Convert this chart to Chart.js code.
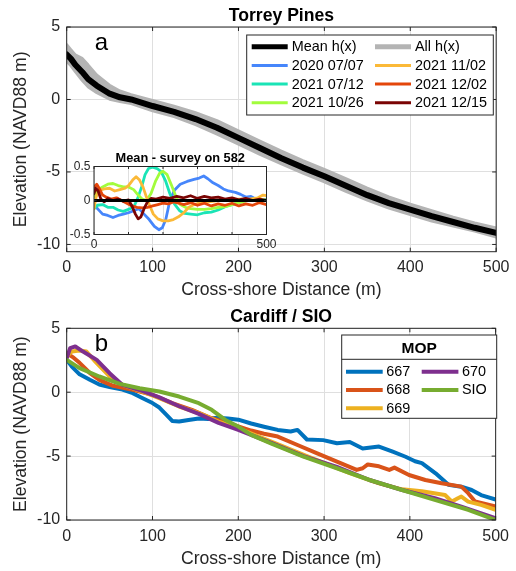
<!DOCTYPE html>
<html>
<head>
<meta charset="utf-8">
<script src="https://cdn.jsdelivr.net/npm/chart.js@4.4.1/dist/chart.umd.min.js"></script>
<style>
  html, body { margin: 0; padding: 0; background: #fff; }
  #page { position: relative; width: 516px; height: 571px; overflow: hidden; }
  canvas { position: absolute; }
  #top { left: 0; top: 0; }
  #bottom { left: 0; top: 302px; }
  #inset { left: 60px; top: 148px; }
</style>
</head>
<body>
<div id="page">
  <canvas id="top" width="516" height="302"></canvas>
  <canvas id="bottom" width="516" height="269"></canvas>
  <canvas id="inset" width="220" height="106"></canvas>
</div>
<script>
const FONT = "'Liberation Sans', Arial, Helvetica, sans-serif";

// ---- tick values ----
const xTicks = [0, 100, 200, 300, 400, 500];
const elevTicks = [-10, -5, 0, 5];
const insetXTicks = [0, 100, 200, 300, 400, 500];
const insetYTicks = [-0.5, 0, 0.5];

// ---- Torrey Pines: mean profile and envelope of all profiles ----
const tpX = [0, 5, 10, 18, 25, 35, 50, 62, 75, 100, 125, 150, 175, 200, 225, 250, 275, 300, 325, 350, 375, 400, 425, 450, 475, 500];
const tpMean = [3.1, 2.8, 2.4, 1.9, 1.4, 0.95, 0.4, 0.15, 0.0, -0.45, -0.85, -1.35, -1.95, -2.65, -3.35, -4.05, -4.7, -5.3, -5.95, -6.6, -7.15, -7.6, -8.05, -8.45, -8.85, -9.2];
const tpAllHigh = [3.8, 3.45, 3.1, 2.85, 2.4, 1.7, 1.0, 0.6, 0.35, -0.05, -0.45, -0.9, -1.45, -2.15, -2.85, -3.55, -4.2, -4.8, -5.45, -6.1, -6.7, -7.2, -7.65, -8.1, -8.5, -8.85];
const tpAllLow = [2.6, 2.3, 1.9, 1.3, 0.85, 0.45, 0.0, -0.15, -0.3, -0.8, -1.2, -1.75, -2.4, -3.1, -3.8, -4.45, -5.1, -5.7, -6.35, -6.95, -7.5, -7.95, -8.4, -8.75, -9.1, -9.5];

// ---- inset: mean minus survey, [x, dz] ----
const surveyLabels = ['2020 07/07', '2021 07/12', '2021 10/26', '2021 11/02', '2021 12/02', '2021 12/15'];
const surveyColors = ['#4686fb', '#1ae4b6', '#a2fc3c', '#fbb938', '#e4460a', '#7a0403'];
const s20200707 = [[0,-0.05],[10,-0.12],[25,-0.2],[40,-0.22],[55,-0.25],[70,-0.22],[85,-0.2],[100,-0.18],[115,-0.15],[130,-0.12],[145,-0.2],[160,-0.28],[175,-0.38],[188,-0.43],[198,-0.4],[208,-0.28],[220,0.0],[233,0.15],[250,0.24],[270,0.28],[290,0.31],[305,0.33],[318,0.36],[330,0.32],[345,0.26],[360,0.22],[375,0.17],[390,0.14],[410,0.12],[425,0.09],[440,0.05],[455,0.06],[470,0.02],[485,0.0],[500,0.02]];
const s20210712 = [[0,-0.12],[10,-0.07],[25,-0.06],[40,-0.1],[55,-0.1],[70,-0.14],[85,-0.16],[100,-0.13],[115,-0.1],[128,0.05],[138,0.2],[148,0.38],[158,0.47],[170,0.49],[183,0.47],[195,0.42],[208,0.28],[220,0.1],[233,-0.05],[248,-0.15],[263,-0.19],[280,-0.2],[300,-0.21],[320,-0.18],[340,-0.17],[360,-0.14],[380,-0.09],[400,-0.06],[420,-0.03],[440,0.0],[460,0.02],[480,-0.01],[500,0.0]];
const s20211026 = [[0,0.05],[10,0.15],[25,0.2],[40,0.24],[55,0.25],[70,0.22],[85,0.2],[100,0.2],[115,0.16],[128,0.08],[140,0.02],[152,0.0],[165,0.1],[178,0.28],[190,0.4],[200,0.43],[212,0.38],[225,0.22],[238,0.05],[250,-0.06],[265,-0.1],[280,-0.12],[300,-0.13],[320,-0.13],[340,-0.12],[360,-0.1],[380,-0.09],[400,-0.06],[420,-0.03],[445,0.0],[470,0.02],[500,0.01]];
const s20211102 = [[0,-0.12],[6,0.05],[14,0.15],[30,0.17],[45,0.18],[60,0.14],[75,0.16],[90,0.18],[100,0.22],[112,0.3],[122,0.35],[132,0.3],[142,0.2],[152,0.05],[162,-0.08],[172,-0.2],[185,-0.27],[200,-0.3],[215,-0.3],[230,-0.28],[245,-0.24],[260,-0.18],[275,-0.1],[290,-0.06],[310,-0.03],[330,-0.02],[360,0.0],[390,0.01],[420,0.02],[450,0.02],[475,0.04],[490,0.08],[500,0.07]];
const s20211202 = [[0,0.2],[8,0.24],[15,0.18],[25,0.08],[35,0.05],[50,0.02],[65,0.04],[80,0.0],[95,-0.04],[110,-0.08],[125,-0.1],[140,-0.11],[155,-0.1],[170,-0.08],[185,-0.06],[200,-0.04],[215,-0.05],[230,-0.02],[245,-0.04],[260,-0.06],[280,-0.03],[300,-0.07],[320,-0.04],[340,-0.08],[360,-0.05],[380,-0.07],[400,-0.04],[420,-0.08],[440,-0.05],[460,-0.07],[480,-0.03],[500,-0.06]];
const s20211215 = [[0,0.1],[5,0.18],[12,0.14],[20,0.02],[30,-0.02],[40,0.03],[55,0.0],[70,0.02],[85,-0.01],[100,0.01],[110,-0.08],[120,-0.2],[128,-0.27],[136,-0.24],[145,-0.12],[155,-0.02],[165,0.03],[180,0.02],[200,0.05],[220,0.03],[240,0.06],[260,0.04],[280,0.07],[300,0.03],[320,0.06],[340,0.04],[360,0.05],[380,0.02],[400,0.04],[420,0.01],[440,0.03],[460,0.0],[480,0.02],[500,0.0]];
const surveys = [s20200707, s20210712, s20211026, s20211102, s20211202, s20211215];
const zeroLine = [[0, 0], [500, 0]];

// ---- Cardiff / SIO profiles, [x, z] ----
const mopLabels = ['667', '668', '669', '670', 'SIO'];
const mopColors = ['#0072bd', '#d95319', '#edb120', '#7e2f8e', '#77ac30'];
const mop667 = [[0,2.55],[6,2.0],[15,1.4],[27,0.97],[38,0.6],[50,0.4],[65,0.2],[77,-0.08],[88,-0.45],[100,-0.85],[108,-1.2],[116,-1.75],[123,-2.25],[131,-2.3],[142,-2.17],[154,-2.05],[165,-2.1],[175,-2.0],[188,-2.05],[200,-2.15],[215,-2.45],[230,-2.7],[246,-2.95],[261,-3.08],[269,-2.95],[280,-3.7],[299,-3.75],[315,-4.0],[330,-3.9],[345,-4.4],[364,-4.25],[380,-4.65],[395,-5.05],[406,-5.4],[414,-5.55],[430,-6.35],[445,-7.25],[460,-7.4],[472,-7.65],[483,-8.05],[500,-8.4]];
const mop668 = [[0,3.05],[8,2.7],[15,2.3],[27,1.5],[38,0.97],[54,0.5],[77,0.18],[100,-0.2],[123,-0.86],[146,-1.38],[169,-2.04],[192,-2.5],[215,-3.0],[230,-3.25],[246,-3.47],[269,-4.13],[292,-4.78],[315,-5.43],[338,-6.08],[345,-5.95],[351,-5.65],[364,-5.8],[376,-6.08],[382,-5.9],[399,-6.48],[418,-6.87],[437,-7.13],[460,-7.39],[468,-7.9],[476,-8.55],[500,-8.95]];
const mop669 = [[0,2.8],[6,3.18],[15,3.26],[23,3.18],[35,2.27],[50,1.23],[65,0.57],[88,0.05],[108,-0.47],[131,-1.12],[154,-1.64],[177,-2.3],[200,-2.82],[240,-3.9],[280,-5.0],[330,-6.34],[364,-7.13],[391,-7.6],[414,-7.75],[441,-8.04],[449,-8.56],[456,-8.3],[460,-8.17],[468,-8.56],[483,-8.82],[500,-9.2]];
const mop670 = [[0,2.66],[4,3.45],[10,3.58],[19,3.18],[35,2.53],[50,1.49],[65,0.57],[88,0.1],[108,-0.4],[131,-1.1],[154,-1.7],[177,-2.4],[200,-2.95],[240,-4.0],[276,-5.0],[315,-5.85],[353,-6.87],[391,-7.65],[429,-8.3],[460,-8.96],[500,-9.87]];
const sio = [[0,2.53],[15,1.88],[38,1.23],[62,0.65],[85,0.31],[108,0.05],[131,-0.34],[154,-0.86],[169,-1.38],[185,-2.17],[200,-2.69],[215,-3.34],[238,-4.0],[276,-5.04],[315,-5.95],[353,-6.87],[391,-7.65],[429,-8.43],[468,-9.2],[500,-10]];
const mopProfiles = [mop667, mop668, mop669, mop670, sio];

const meanColor = '#000000';
const allColor = '#b4b4b4';

const pairs = p => p.map(([x, y]) => ({ x, y }));
const zip = (xs, ys) => xs.map((x, i) => ({ x, y: ys[i] }));

// MATLAB-style box, inward ticks, bold title, panel letter
const matlabAxes = {
  id: 'matlabAxes',
  beforeDraw(chart, args, o) {
    if (!o.whiteArea) return;
    const a = chart.chartArea;
    chart.ctx.save();
    chart.ctx.fillStyle = '#fff';
    chart.ctx.fillRect(a.left, a.top, a.width, a.height);
    chart.ctx.restore();
  },
  afterDraw(chart, args, o) {
    const { ctx, chartArea: a } = chart;
    const x = chart.scales.x, y = chart.scales.y;
    ctx.save();
    ctx.strokeStyle = '#262626';
    ctx.lineWidth = 1;
    ctx.beginPath();
    x.ticks.forEach(t => {
      const p = x.getPixelForValue(t.value);
      ctx.moveTo(p, a.bottom); ctx.lineTo(p, a.bottom - o.tickLen);
      ctx.moveTo(p, a.top); ctx.lineTo(p, a.top + o.tickLen);
    });
    y.ticks.forEach(t => {
      const p = y.getPixelForValue(t.value);
      ctx.moveTo(a.left, p); ctx.lineTo(a.left + o.tickLen, p);
      ctx.moveTo(a.right, p); ctx.lineTo(a.right - o.tickLen, p);
    });
    ctx.stroke();
    ctx.strokeRect(a.left, a.top, a.width, a.height);
    if (o.title) {
      ctx.fillStyle = '#000';
      ctx.font = 'bold ' + o.titleSize + 'px ' + FONT;
      ctx.textAlign = 'center';
      ctx.textBaseline = 'middle';
      ctx.fillText(o.title, (a.left + a.right) / 2, a.top - o.titleGap);
    }
    if (o.letter) {
      ctx.fillStyle = '#000';
      ctx.font = '24px ' + FONT;
      ctx.textAlign = 'left';
      ctx.textBaseline = 'alphabetic';
      ctx.fillText(o.letter, a.left + 28, a.top + 23);
    }
    ctx.restore();
  }
};

// boxed MATLAB-like legend, filled column by column
const boxLegend = {
  id: 'boxLegend',
  afterDraw(chart, args, o) {
    if (!o.items) return;
    const ctx = chart.ctx;
    const [x1, y1, x2, y2] = o.box;
    ctx.save();
    ctx.fillStyle = '#fff';
    ctx.fillRect(x1, y1, x2 - x1, y2 - y1);
    ctx.strokeStyle = '#262626';
    ctx.lineWidth = 1;
    ctx.strokeRect(x1, y1, x2 - x1, y2 - y1);
    if (o.title) {
      ctx.fillStyle = '#000';
      ctx.font = 'bold ' + o.titleSize + 'px ' + FONT;
      ctx.textAlign = 'center';
      ctx.textBaseline = 'middle';
      ctx.fillText(o.title, (x1 + x2) / 2, o.titleY);
      ctx.beginPath();
      ctx.moveTo(x1, o.sepY); ctx.lineTo(x2, o.sepY);
      ctx.stroke();
    }
    ctx.font = o.fontSize + 'px ' + FONT;
    ctx.textAlign = 'left';
    ctx.textBaseline = 'middle';
    ctx.lineCap = 'butt';
    o.items.forEach((it, i) => {
      const col = Math.floor(i / o.rows), row = i % o.rows;
      const lx = o.cols[col], ly = o.rowY + row * o.rowStep;
      ctx.strokeStyle = it.color;
      ctx.lineWidth = it.width;
      ctx.beginPath();
      ctx.moveTo(lx, ly); ctx.lineTo(lx + o.lineLen, ly);
      ctx.stroke();
      ctx.fillStyle = '#000';
      ctx.fillText(it.label, lx + o.lineLen + o.gap, ly + 0.5);
    });
    ctx.restore();
  }
};

function scalesFor(c) {
  return {
    x: {
      type: 'linear', min: 0, max: 500,
      afterBuildTicks: s => { s.ticks = c.xTicks.map(v => ({ value: v })); },
      afterFit: s => { s.height = c.xHeight; },
      grid: { color: '#dfdfdf', drawTicks: false },
      border: { display: false },
      ticks: {
        color: '#262626', padding: c.xPad, maxRotation: 0, autoSkip: false,
        font: { size: c.tickSize },
        callback: c.xLabel || (v => String(v))
      },
      title: {
        display: !!c.xTitle, text: c.xTitle, color: '#262626',
        font: { size: 17.6 }, padding: { top: 0, bottom: 1.4 }
      }
    },
    y: {
      type: 'linear', min: c.yMin, max: c.yMax,
      afterBuildTicks: s => { s.ticks = c.yTicks.map(v => ({ value: v })); },
      afterFit: s => { s.width = c.yWidth; },
      grid: { color: '#dfdfdf', drawTicks: false },
      border: { display: false },
      ticks: {
        color: '#262626', padding: c.yPad, autoSkip: false,
        font: { size: c.tickSize },
        callback: v => String(v)
      },
      title: {
        display: !!c.yTitle, text: c.yTitle, color: '#262626',
        font: { size: 17.6 }, padding: { top: 10.8, bottom: 0 }
      }
    }
  };
}

const lineDefaults = {
  pointRadius: 0, tension: 0, borderJoinStyle: 'round', borderCapStyle: 'round', fill: false, clip: 0
};

Chart.defaults.font.family = FONT;
Chart.defaults.color = '#262626';
Chart.defaults.animation = false;
Chart.defaults.plugins.legend.display = false;
Chart.defaults.plugins.tooltip.enabled = false;

// ---- panel a ----
new Chart(document.getElementById('top'), {
  type: 'line',
  data: {
    datasets: [
      Object.assign({}, lineDefaults, { label: 'Mean h(x)', data: zip(tpX, tpMean), borderColor: meanColor, borderWidth: 6, order: 0 }),
      Object.assign({}, lineDefaults, { label: 'All h(x)', data: zip(tpX, tpAllHigh), borderColor: allColor, backgroundColor: allColor, borderWidth: 2.5, fill: '+1', order: 2 }),
      Object.assign({}, lineDefaults, { label: 'All low', data: zip(tpX, tpAllLow), borderColor: allColor, borderWidth: 2.5, order: 3 })
    ]
  },
  options: {
    responsive: false,
    layout: { padding: { top: 27, right: 14.3, bottom: 0, left: 0 } },
    scales: scalesFor({
      xTicks, yTicks: elevTicks, yMin: -10.5, yMax: 5,
      xHeight: 50.3, yWidth: 66.7, xPad: 6.5, yPad: 6.5, tickSize: 16,
      xTitle: 'Cross-shore Distance (m)', yTitle: 'Elevation (NAVD88 m)'
    }),
    plugins: {
      matlabAxes: { tickLen: 4, title: 'Torrey Pines', titleSize: 17.6, titleGap: 11, letter: 'a' },
      boxLegend: {
        box: [246.7, 35, 493.3, 115], rows: 4, rowY: 46.7, rowStep: 18.7,
        cols: [251.7, 375], lineLen: 36, gap: 4, fontSize: 14.4,
        items: [
          { label: 'Mean h(x)', color: meanColor, width: 5 },
          { label: surveyLabels[0], color: surveyColors[0], width: 3 },
          { label: surveyLabels[1], color: surveyColors[1], width: 3 },
          { label: surveyLabels[2], color: surveyColors[2], width: 3 },
          { label: 'All h(x)', color: allColor, width: 5 },
          { label: surveyLabels[3], color: surveyColors[3], width: 3 },
          { label: surveyLabels[4], color: surveyColors[4], width: 3 },
          { label: surveyLabels[5], color: surveyColors[5], width: 3 }
        ]
      }
    }
  },
  plugins: [matlabAxes, boxLegend]
});

// ---- inset ----
const insetSets = surveys.map((s, i) => Object.assign({}, lineDefaults, {
  label: surveyLabels[i], data: pairs(s), borderColor: surveyColors[i], borderWidth: 2.8, order: surveys.length - i
}));
insetSets.unshift(Object.assign({}, lineDefaults, { label: 'zero', data: pairs(zeroLine), borderColor: '#000', borderWidth: 3, order: 0 }));

new Chart(document.getElementById('inset'), {
  type: 'line',
  data: { datasets: insetSets },
  options: {
    responsive: false,
    layout: { padding: { top: 18.5, right: 13.5, bottom: 0, left: 0 } },
    scales: scalesFor({
      xTicks: insetXTicks, yTicks: insetYTicks, yMin: -0.5, yMax: 0.5,
      xHeight: 19.5, yWidth: 34, xPad: 3.3, yPad: 3.5, tickSize: 12,
      xLabel: v => (v === 0 || v === 500 ? String(v) : '')
    }),
    plugins: {
      matlabAxes: { whiteArea: true, tickLen: 2.5, title: 'Mean - survey on 582', titleSize: 12.8, titleGap: 8 }
    }
  },
  plugins: [matlabAxes]
});

// ---- panel b ----
new Chart(document.getElementById('bottom'), {
  type: 'line',
  data: {
    datasets: mopProfiles.map((p, i) => Object.assign({}, lineDefaults, {
      label: mopLabels[i], data: pairs(p), borderColor: mopColors[i], borderWidth: 4, order: mopProfiles.length - i
    }))
  },
  options: {
    responsive: false,
    layout: { padding: { top: 26.3, right: 14.3, bottom: 0, left: 0 } },
    scales: scalesFor({
      xTicks, yTicks: elevTicks, yMin: -10, yMax: 5,
      xHeight: 51, yWidth: 66.7, xPad: 7, yPad: 6.5, tickSize: 16,
      xTitle: 'Cross-shore Distance (m)', yTitle: 'Elevation (NAVD88 m)'
    }),
    plugins: {
      matlabAxes: { tickLen: 4, title: 'Cardiff / SIO', titleSize: 17.6, titleGap: 11, letter: 'b' },
      boxLegend: {
        box: [341.7, 33, 496.7, 116.3], rows: 3, rowY: 69.7, rowStep: 18.3,
        cols: [346, 421.7], lineLen: 36.7, gap: 3.5, fontSize: 14.4,
        title: 'MOP', titleSize: 15.5, titleY: 46.3, sepY: 57.3,
        items: mopLabels.map((l, i) => ({ label: l, color: mopColors[i], width: 4 }))
      }
    }
  },
  plugins: [matlabAxes, boxLegend]
});
</script>
</body>
</html>
